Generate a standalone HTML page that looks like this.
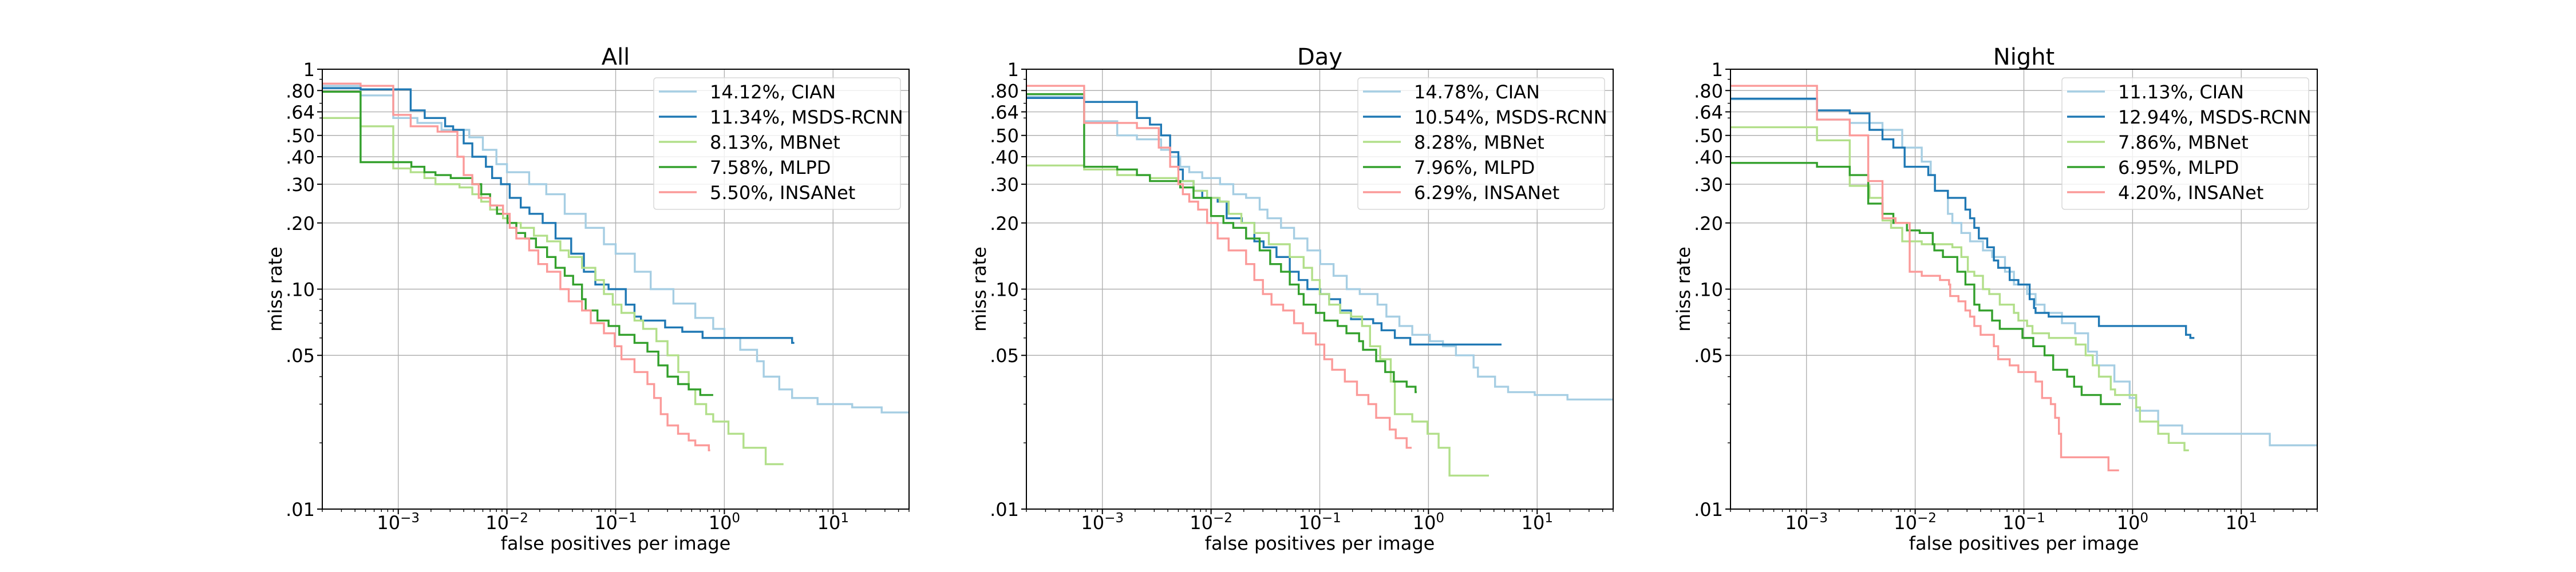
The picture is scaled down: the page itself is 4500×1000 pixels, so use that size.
<!DOCTYPE html>
<html><head><meta charset="utf-8"><style>
html,body{margin:0;padding:0;background:#fff}
svg{display:block;font-family:"DejaVu Sans","Liberation Sans",sans-serif}
</style></head><body>
<svg id="fig" width="4500" height="1000" viewBox="0 0 4500 1000" xmlns="http://www.w3.org/2000/svg"></svg>
<script>
// ---------- data ----------
const panelTitles = ["All","Day","Night"];
const methodNames = ["CIAN","MSDS-RCNN","MBNet","MLPD","INSANet"];
const legendAll = ["14.12%, CIAN","11.34%, MSDS-RCNN","8.13%, MBNet","7.58%, MLPD","5.50%, INSANet"];
const legendDay = ["14.78%, CIAN","10.54%, MSDS-RCNN","8.28%, MBNet","7.96%, MLPD","6.29%, INSANet"];
const legendNight = ["11.13%, CIAN","12.94%, MSDS-RCNN","7.86%, MBNet","6.95%, MLPD","4.20%, INSANet"];
const yTickValues = [1,0.8,0.64,0.5,0.4,0.3,0.2,0.1,0.05,0.01];
const yTickLabels = ["1",".80",".64",".50",".40",".30",".20",".10",".05",".01"];
const yMinorValues = [0.02,0.03,0.04,0.06,0.07,0.08,0.09,0.6,0.7,0.9];
const xTickExps = [-3,-2,-1,0,1];

// All
const all_cian_fppi = [2e-4,4.5e-4,9e-4,1.5e-3,2.5e-3,4.5e-3,6e-3,8e-3,1.0e-2,1.6e-2,2.3e-2,3.4e-2,5.3e-2,7.8e-2,0.1,0.15,0.21,0.34,0.54,0.79,1.0,1.4,2.0,2.3,3.2,4.2,7.2,15,28,50];
const all_cian_mr = [0.84,0.76,0.60,0.57,0.53,0.49,0.43,0.37,0.34,0.30,0.27,0.22,0.19,0.16,0.145,0.12,0.10,0.086,0.074,0.066,0.06,0.053,0.047,0.040,0.035,0.032,0.030,0.029,0.0275,0.0275];
const all_msds_fppi = [2e-4,4.5e-4,1.3e-3,1.75e-3,2.7e-3,3.2e-3,4.0e-3,4.8e-3,6.4e-3,7.3e-3,8.8e-3,1.06e-2,1.34e-2,1.61e-2,2.13e-2,2.8e-2,3.9e-2,5.1e-2,6.5e-2,8.6e-2,0.124,0.149,0.171,0.285,0.41,0.63,4.2,4.4];
const all_msds_mr = [0.82,0.81,0.65,0.60,0.55,0.53,0.46,0.40,0.36,0.32,0.30,0.26,0.235,0.22,0.20,0.17,0.145,0.12,0.105,0.10,0.085,0.075,0.072,0.067,0.064,0.06,0.057,0.057];
const all_mbnet_fppi = [2e-4,4.5e-4,9e-4,1.3e-3,1.74e-3,2.2e-3,3.66e-3,4.8e-3,5.8e-3,7e-3,9.2e-3,1.06e-2,1.34e-2,1.77e-2,2.34e-2,3.1e-2,3.7e-2,4.9e-2,6.5e-2,7.8e-2,9.4e-2,0.113,0.149,0.179,0.237,0.30,0.377,0.47,0.54,0.68,0.79,1.09,1.5,2.4,3.5];
const all_mbnet_mr = [0.60,0.55,0.354,0.34,0.32,0.30,0.29,0.27,0.25,0.23,0.21,0.20,0.19,0.175,0.165,0.15,0.14,0.125,0.11,0.095,0.085,0.078,0.072,0.066,0.058,0.05,0.042,0.035,0.030,0.027,0.025,0.022,0.019,0.016,0.016];
const all_mlpd_fppi = [2e-4,4.5e-4,1.32e-3,1.74e-3,2.2e-3,3.04e-3,4.8e-3,5.8e-3,7e-3,8.1e-3,1.01e-2,1.22e-2,1.47e-2,1.85e-2,2.34e-2,2.8e-2,3.4e-2,4.06e-2,4.9e-2,5.3e-2,6.8e-2,8.6e-2,0.108,0.149,0.196,0.247,0.30,0.375,0.47,0.60,0.79];
const all_mlpd_mr = [0.79,0.378,0.36,0.34,0.33,0.32,0.30,0.27,0.24,0.22,0.20,0.18,0.17,0.155,0.14,0.125,0.115,0.105,0.09,0.08,0.072,0.068,0.062,0.057,0.052,0.045,0.040,0.037,0.035,0.033,0.033];
const all_insa_fppi = [2e-4,4.5e-4,9e-4,1.3e-3,2.3e-3,3.5e-3,4.0e-3,4.8e-3,5.5e-3,7e-3,9.2e-3,1.06e-2,1.22e-2,1.6e-2,1.94e-2,2.34e-2,3.1e-2,3.7e-2,4.9e-2,5.9e-2,7.8e-2,9.8e-2,0.113,0.149,0.196,0.226,0.26,0.30,0.375,0.47,0.54,0.72,0.74];
const all_insa_mr = [0.86,0.84,0.62,0.55,0.52,0.40,0.33,0.30,0.26,0.24,0.22,0.19,0.17,0.15,0.13,0.12,0.10,0.088,0.08,0.07,0.063,0.055,0.048,0.042,0.037,0.032,0.027,0.024,0.022,0.0205,0.0195,0.0185,0.0185];

// Day
const day_cian_fppi = [2e-4,6.8e-4,1.37e-3,2.08e-3,3.47e-3,4.2e-3,5.2e-3,6.3e-3,8.3e-3,1.21e-2,1.6e-2,2.1e-2,2.8e-2,3.3e-2,4.4e-2,5.8e-2,7.7e-2,0.101,0.134,0.177,0.233,0.34,0.41,0.54,0.71,1.03,1.36,1.79,2.6,2.85,4.1,5.4,9.5,19,50];
const day_cian_mr = [0.75,0.58,0.50,0.48,0.43,0.40,0.36,0.34,0.32,0.30,0.27,0.26,0.23,0.21,0.19,0.17,0.15,0.13,0.115,0.10,0.095,0.085,0.075,0.068,0.062,0.058,0.055,0.050,0.044,0.040,0.036,0.034,0.033,0.0315,0.0315];
const day_msds_fppi = [2e-4,6.8e-4,2.08e-3,2.74e-3,3.47e-3,4.2e-3,5.0e-3,5.5e-3,6.9e-3,8.3e-3,1.15e-2,1.39e-2,1.92e-2,2.5e-2,3.04e-2,4.0e-2,5.3e-2,6.4e-2,7.7e-2,0.101,0.122,0.154,0.194,0.31,0.37,0.49,0.68,4.7];
const day_msds_mr = [0.74,0.71,0.60,0.56,0.50,0.42,0.35,0.31,0.28,0.26,0.25,0.21,0.20,0.165,0.155,0.14,0.12,0.11,0.10,0.095,0.09,0.08,0.073,0.07,0.065,0.06,0.056,0.056];
const day_mbnet_fppi = [2e-4,6.8e-4,1.37e-3,2.74e-3,4.8e-3,6.9e-3,9.2e-3,1.2e-2,1.45e-2,1.9e-2,2.5e-2,3.4e-2,5.3e-2,7.1e-2,8.5e-2,0.1,0.122,0.154,0.194,0.245,0.29,0.36,0.45,0.49,0.71,0.98,1.24,1.56,3.6];
const day_mbnet_mr = [0.365,0.35,0.33,0.32,0.31,0.28,0.26,0.25,0.22,0.20,0.18,0.16,0.14,0.125,0.11,0.095,0.085,0.078,0.075,0.068,0.055,0.048,0.038,0.027,0.025,0.022,0.019,0.0142,0.0142];
const day_mlpd_fppi = [2e-4,6.8e-4,1.37e-3,2.08e-3,2.74e-3,5.2e-3,6.9e-3,1.0e-2,1.3e-2,1.6e-2,2.1e-2,2.8e-2,3.5e-2,4.4e-2,5.3e-2,6.4e-2,7.1e-2,9.2e-2,0.11,0.146,0.176,0.23,0.25,0.33,0.40,0.48,0.63,0.76,0.78];
const day_mlpd_mr = [0.77,0.36,0.35,0.33,0.31,0.29,0.26,0.215,0.20,0.19,0.17,0.15,0.13,0.12,0.105,0.095,0.085,0.078,0.072,0.068,0.063,0.058,0.053,0.047,0.042,0.038,0.036,0.034,0.034];
const day_insa_fppi = [2e-4,6.8e-4,2.08e-3,3.3e-3,4.2e-3,5.0e-3,5.5e-3,6.3e-3,7.6e-3,9.2e-3,1.15e-2,1.45e-2,2.1e-2,2.5e-2,3.0e-2,3.6e-2,4.6e-2,5.8e-2,7.0e-2,9.2e-2,0.11,0.13,0.17,0.22,0.28,0.33,0.44,0.50,0.63,0.70];
const day_insa_mr = [0.84,0.57,0.54,0.44,0.36,0.30,0.27,0.25,0.23,0.20,0.17,0.15,0.13,0.11,0.095,0.085,0.08,0.07,0.063,0.056,0.048,0.043,0.038,0.033,0.030,0.026,0.023,0.021,0.019,0.019];

// Night
const night_cian_fppi = [2e-4,1.25e-3,2.5e-3,5.0e-3,7.6e-3,1.15e-2,1.39e-2,1.52e-2,2.0e-2,2.2e-2,2.66e-2,3.2e-2,4.2e-2,5.1e-2,6.7e-2,8.1e-2,0.107,0.128,0.155,0.224,0.296,0.39,0.47,0.68,0.94,1.08,1.72,2.86,18.3,50];
const night_cian_mr = [0.73,0.59,0.57,0.53,0.44,0.38,0.33,0.28,0.22,0.20,0.18,0.165,0.15,0.14,0.12,0.105,0.095,0.085,0.078,0.07,0.063,0.052,0.045,0.038,0.032,0.028,0.024,0.022,0.0195,0.0195];
const night_msds_fppi = [2e-4,1.25e-3,2.5e-3,3.8e-3,5.0e-3,6.3e-3,8.0e-3,1.32e-2,1.52e-2,2.0e-2,2.9e-2,3.2e-2,3.5e-2,3.85e-2,4.6e-2,5.3e-2,5.8e-2,7.4e-2,8.9e-2,0.113,0.124,0.128,0.169,0.49,3.1,3.4,3.7];
const night_msds_mr = [0.735,0.65,0.63,0.53,0.48,0.44,0.36,0.33,0.28,0.26,0.23,0.21,0.19,0.17,0.155,0.135,0.125,0.11,0.105,0.09,0.082,0.078,0.075,0.068,0.062,0.060,0.060];
const night_mbnet_fppi = [2e-4,1.25e-3,2.5e-3,3.8e-3,5.0e-3,6.0e-3,7.6e-3,1.15e-2,2.2e-2,2.66e-2,3.05e-2,3.5e-2,4.2e-2,4.8e-2,6.0e-2,8.1e-2,8.9e-2,0.107,0.12,0.17,0.30,0.37,0.43,0.49,0.63,0.69,1.08,1.17,1.72,2.15,3.0,3.3];
const night_mbnet_mr = [0.545,0.475,0.295,0.26,0.205,0.19,0.165,0.16,0.155,0.14,0.12,0.115,0.10,0.095,0.085,0.078,0.072,0.068,0.063,0.060,0.056,0.050,0.045,0.040,0.035,0.033,0.029,0.025,0.022,0.020,0.0185,0.0185];
const night_mlpd_fppi = [2e-4,1.25e-3,2.5e-3,3.7e-3,5.0e-3,6.3e-3,8.4e-3,1.1e-2,1.45e-2,1.5e-2,1.8e-2,2.44e-2,2.9e-2,3.5e-2,3.9e-2,5.1e-2,6.0e-2,9.7e-2,0.122,0.155,0.186,0.25,0.29,0.34,0.51,0.78];
const night_mlpd_mr = [0.375,0.36,0.33,0.245,0.22,0.20,0.185,0.18,0.16,0.15,0.14,0.12,0.105,0.085,0.08,0.072,0.066,0.060,0.055,0.050,0.043,0.040,0.036,0.033,0.030,0.030];
const night_insa_fppi = [2e-4,1.25e-3,2.5e-3,3.7e-3,5.0e-3,6.6e-3,8.9e-3,1.15e-2,1.69e-2,2.05e-2,2.1e-2,2.5e-2,2.9e-2,3.2e-2,3.5e-2,4.0e-2,5.3e-2,5.8e-2,7.4e-2,8.9e-2,0.128,0.147,0.177,0.194,0.21,0.22,0.31,0.60,0.75];
const night_insa_mr = [0.84,0.59,0.50,0.31,0.21,0.20,0.12,0.115,0.11,0.105,0.093,0.088,0.08,0.075,0.068,0.062,0.055,0.048,0.045,0.042,0.038,0.032,0.030,0.026,0.022,0.0172,0.0172,0.015,0.015];

// ---------- drawing ----------
const NS = "http://www.w3.org/2000/svg";
const svg = document.getElementById("fig");
const colors = ["#a6cee3","#1f78b4","#b2df8a","#33a02c","#fb9a99"];
const panelLefts = [563,1793,3023];
const PW = 1025, TOP = 121, BOT = 890;
const XMIN = Math.log10(2e-4), XMAX = Math.log10(50);
function el(tag, attrs, parent){const e=document.createElementNS(NS,tag);for(const k in attrs)e.setAttribute(k,attrs[k]);(parent||svg).appendChild(e);return e;}
function xs(L,v){return L + (Math.log10(v)-XMIN)/(XMAX-XMIN)*PW;}
function ys(v){return TOP + (-Math.log10(v))/2*(BOT-TOP);}

const panelSeries = [
 [[all_cian_fppi,all_cian_mr],[all_msds_fppi,all_msds_mr],[all_mbnet_fppi,all_mbnet_mr],[all_mlpd_fppi,all_mlpd_mr],[all_insa_fppi,all_insa_mr]],
 [[day_cian_fppi,day_cian_mr],[day_msds_fppi,day_msds_mr],[day_mbnet_fppi,day_mbnet_mr],[day_mlpd_fppi,day_mlpd_mr],[day_insa_fppi,day_insa_mr]],
 [[night_cian_fppi,night_cian_mr],[night_msds_fppi,night_msds_mr],[night_mbnet_fppi,night_mbnet_mr],[night_mlpd_fppi,night_mlpd_mr],[night_insa_fppi,night_insa_mr]]
];
const legends = [legendAll,legendDay,legendNight];

panelLefts.forEach((L,pi)=>{
  const key = panelTitles[pi].toLowerCase();
  const g = el("g",{});
  
  
  const R = L+PW;
  const cp = el("clipPath",{id:"clip"+pi},g);
  el("rect",{x:L,y:TOP,width:PW,height:BOT-TOP},cp);
  xTickExps.forEach(e=>{
    const x = xs(L,Math.pow(10,e));
    const gl = el("line",{x1:x,x2:x,y1:TOP,y2:BOT,stroke:"#b0b0b0","stroke-width":1.4},g);
    
    
  });
  yTickValues.forEach(v=>{
    const y = ys(v);
    const gl = el("line",{x1:L,x2:R,y1:y,y2:y,stroke:"#b0b0b0","stroke-width":1.4},g);
    
    
  });
  panelSeries[pi].forEach((s,si)=>{
    const fx = s[0], my = s[1];
    let d = "M"+xs(L,fx[0]).toFixed(1)+","+ys(my[0]).toFixed(1);
    for(let i=1;i<fx.length;i++){
      d += "H"+xs(L,fx[i]).toFixed(1)+"V"+ys(my[i]).toFixed(1);
    }
    const p = el("path",{d:d,fill:"none",stroke:colors[si],"stroke-width":3.4,"clip-path":"url(#clip"+pi+")"},g);
    
    
  });
  const fr = el("rect",{x:L,y:TOP,width:PW,height:BOT-TOP,fill:"none",stroke:"#000","stroke-width":2},g);
  
  
  for(let e=-4;e<=1;e++){
    for(let m=1;m<10;m++){
      const v = m*Math.pow(10,e);
      if(v<2e-4||v>50) continue;
      const x = xs(L,v);
      const len = m===1?9:5;
      el("line",{x1:x,x2:x,y1:BOT,y2:BOT+len,stroke:"#000","stroke-width":m===1?2:1.4},g);
    }
  }
  xTickExps.forEach(e=>{
    const x = xs(L,Math.pow(10,e));
    const t = el("text",{x:x,y:925,"font-size":32,"text-anchor":"middle"},g);
    
    
    const a = el("tspan",{},t); a.textContent="10";
    const b = el("tspan",{dy:-12,"font-size":23}, t); b.textContent = e<0?("\u2212"+(-e)):String(e);
  });
  yTickValues.forEach((v,i)=>{
    const y = ys(v);
    el("line",{x1:L-9,x2:L,y1:y,y2:y,stroke:"#000","stroke-width":2},g);
    const t = el("text",{x:L-13,y:y+12,"font-size":32,"text-anchor":"end"},g);
    
    
    t.textContent = yTickLabels[i];
  });
  yMinorValues.forEach(v=>{
    const y = ys(v);
    el("line",{x1:L-5,x2:L,y1:y,y2:y,stroke:"#000","stroke-width":1.4},g);
  });
  const ti = el("text",{x:L+PW/2,y:113,"font-size":40,"text-anchor":"middle"},g);
  
  
  ti.textContent = panelTitles[pi];
  const xl = el("text",{x:L+PW/2,y:961,"font-size":32,"text-anchor":"middle"},g);
  
  
  xl.textContent = "false positives per image";
  const yl = el("text",{x:0,y:0,"font-size":32,"text-anchor":"middle",transform:"translate("+(L-71)+","+((TOP+BOT)/2)+") rotate(-90)"},g);
  
  
  yl.textContent = "miss rate";
  const lg = el("g",{},g);
  
  
  const lx = R-446, ly = 136;
  el("rect",{x:lx,y:ly,width:431,height:230,rx:5,fill:"#fff","fill-opacity":0.8,stroke:"#d8d8d8","stroke-width":1.5},lg);
  legends[pi].forEach((lab,i)=>{
    const cy = 160 + i*44;
    const ent = el("g",{},lg);
    
    
    el("line",{x1:lx+9,x2:lx+75,y1:cy,y2:cy,stroke:colors[i],"stroke-width":3.4},ent);
    const t = el("text",{x:lx+98,y:cy+12,"font-size":32},ent);
    t.textContent = lab;
  });
});
</script>
</body></html>
